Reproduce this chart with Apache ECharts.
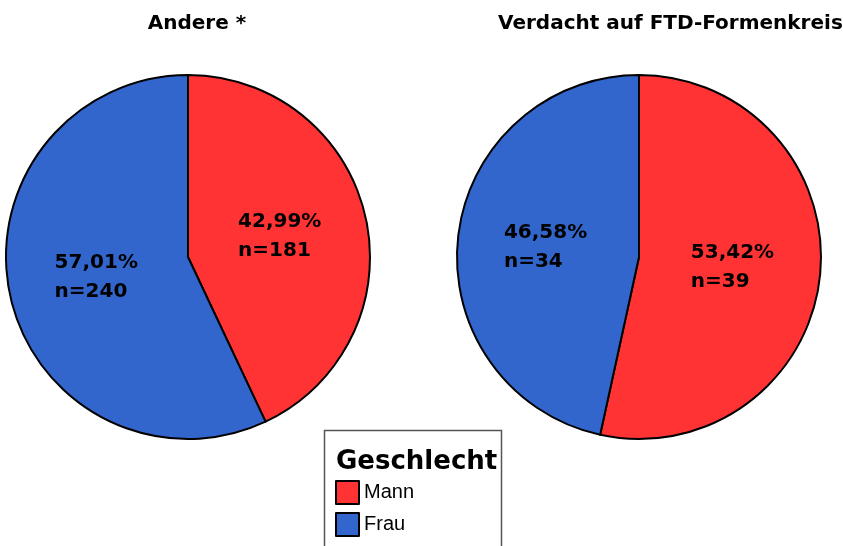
<!DOCTYPE html>
<html>
<head>
<meta charset="utf-8">
<script src="https://cdn.jsdelivr.net/npm/echarts@6/dist/echarts.min.js"></script>
<style>
  html, body { margin: 0; padding: 0; background: #fff; }
  #main { width: 843px; height: 546px; }
</style>
</head>
<body>
<div id="main"></div>
<script>
// data
const genders = ['Mann', 'Frau'];
const colors = ['#ff3333', '#3366cc'];
const groupTitles = ['Andere *', 'Verdacht auf FTD-Formenkreis'];
const andereCounts = [181, 240];
const ftdCounts = [39, 34];

const chart = echarts.init(document.getElementById('main'));

const fmtPct = (v) => v.toFixed(2).replace('.', ',') + '%';

function makePie(name, counts, center) {
    const total = counts.reduce((a, b) => a + b, 0);
    return {
        name: name,
        type: 'pie',
        center: center,
        radius: [0, 182],
        startAngle: 90,
        clockwise: true,
        animation: false,
        silent: true,
        data: counts.map((v, i) => ({
            name: genders[i],
            value: v,
            itemStyle: { color: colors[i] }
        })),
        itemStyle: { borderColor: '#000', borderWidth: 2 },
        label: {
            show: true,
            position: 'inside',
            formatter: (p) => '{a|' + fmtPct(p.value / total * 100) + '}\n{a|n=' + p.value + '}',
            rich: {
                a: {
                    fontFamily: 'DejaVu Sans',
                    fontWeight: 'bold',
                    fontSize: 20,
                    color: '#000',
                    align: 'left',
                    lineHeight: 29
                }
            }
        },
        labelLine: { show: false }
    };
}

// one legend block per entry so they stack vertically
const legends = genders.map((g, i) => ({
    data: [g],
    orient: 'vertical',
    left: 330,
    top: 475 + i * 32,
    itemWidth: 23,
    itemHeight: 23,
    icon: 'rect',
    selectedMode: false,
    itemStyle: { borderColor: '#000', borderWidth: 2 },
    textStyle: { fontFamily: 'Liberation Sans', fontSize: 20, color: '#000' }
}));

const option = {
    backgroundColor: '#fff',
    title: [
        {
            text: groupTitles[0], left: 192, top: 9, textAlign: 'center',
            textStyle: { fontFamily: 'DejaVu Sans', fontWeight: 'bold', fontSize: 20, color: '#000' }
        },
        {
            text: groupTitles[1], left: 493, top: 9,
            textStyle: { fontFamily: 'DejaVu Sans', fontWeight: 'bold', fontSize: 20, color: '#000' }
        }
    ],
    legend: legends,
    graphic: [
        {
            type: 'rect',
            shape: { x: 324.5, y: 430.5, width: 177, height: 130 },
            style: { fill: 'none', stroke: '#555', lineWidth: 1.5 }
        },
        {
            type: 'text',
            x: 336, y: 449,
            style: {
                text: 'Geschlecht',
                fontFamily: 'DejaVu Sans',
                fontWeight: 'bold',
                fontSize: 26,
                fill: '#000'
            }
        }
    ],
    series: [
        makePie(groupTitles[0], andereCounts, [188, 257]),
        makePie(groupTitles[1], ftdCounts, [639, 257])
    ]
};

chart.setOption(option);
</script>
</body>
</html>
